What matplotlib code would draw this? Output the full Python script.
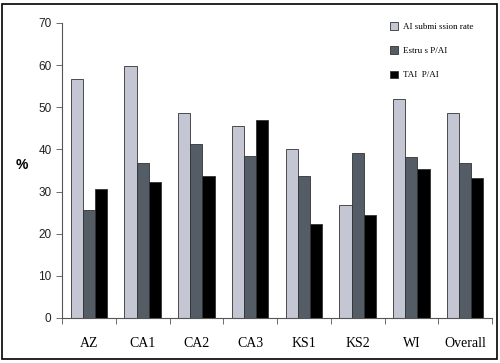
import numpy as np
import matplotlib.pyplot as plt
from matplotlib.patches import Rectangle

# данные
categories = ['AZ', 'CA1', 'CA2', 'CA3', 'KS1', 'KS2', 'WI', 'Overall']
ai_submission = [56.7, 59.8, 48.6, 45.6, 40.0, 26.8, 52.0, 48.7]
estrus_pai = [25.5, 36.7, 41.2, 38.4, 33.7, 39.1, 38.2, 36.7]
tai_pai = [30.7, 32.2, 33.6, 47.0, 22.4, 24.5, 35.3, 33.3]
series_names = ['AI submi ssion rate', 'Estru s P/AI', 'TAI  P/AI']

fig = plt.figure(figsize=(5.0, 3.63), dpi=100)
ax = fig.add_axes([0.124, 0.124, 0.86, 0.813])

x = np.arange(len(categories))
w = 0.225
cols = ['#c4c7d3', '#545d66', '#000000']
for i, (vals, c, name) in enumerate(zip([ai_submission, estrus_pai, tai_pai], cols, series_names)):
    ax.bar(x + (i - 1) * w, vals, w, color=c, edgecolor='#333333', linewidth=0.6, label=name)

ax.set_xlim(-0.5, len(categories) - 0.5)
ax.set_ylim(0, 70)
ax.set_yticks(range(0, 71, 10))
ax.set_yticklabels([str(v) for v in range(0, 71, 10)], fontfamily='Liberation Sans', fontsize=8.5)
ax.set_xticks(x)
ax.set_xticklabels(categories, fontfamily='Liberation Serif', fontsize=10)
ax.tick_params(axis='x', length=0, pad=14)
ax.set_xticks(np.arange(-0.5, len(categories)), minor=True)
ax.tick_params(axis='x', which='minor', length=4, width=0.6, color='#555555')
ax.tick_params(axis='y', length=4, width=0.6, color='#555555', labelcolor='#222222')
for s in ['top', 'right']:
    ax.spines[s].set_visible(False)
for s in ['left', 'bottom']:
    ax.spines[s].set_color('#555555')
    ax.spines[s].set_linewidth(0.8)

fig.text(0.044, 0.545, '%', fontsize=10, fontfamily='Liberation Sans', fontweight='bold',
         ha='center', va='center')

leg = ax.legend(loc='upper right', bbox_to_anchor=(0.975, 1.03), frameon=False,
                prop={'family': 'Liberation Serif', 'size': 6.5},
                handlelength=0.9, handleheight=0.9, labelspacing=1.7, handletextpad=0.5)

fig.patches.append(Rectangle((0.004, 0.012), 0.99, 0.978, transform=fig.transFigure,
                             fill=False, edgecolor='black', linewidth=1.2))

plt.savefig('out.png', dpi=100)
